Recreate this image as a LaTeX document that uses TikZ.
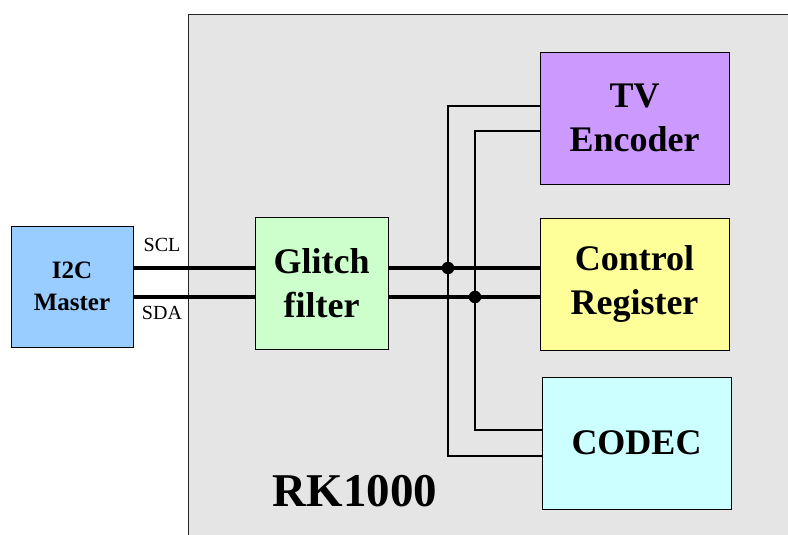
\documentclass[tikz,border=0pt]{standalone}
\usepackage{fontspec}
\setmainfont{Liberation Serif}
\definecolor{bgray}{HTML}{E5E5E5}
\definecolor{cmaster}{HTML}{99CCFF}
\definecolor{cglitch}{HTML}{CCFFCC}
\definecolor{ctv}{HTML}{CC99FF}
\definecolor{cctrl}{HTML}{FFFF99}
\definecolor{ccodec}{HTML}{CCFFFF}
\tikzset{
  blockbox/.style={draw=black, line width=0.9pt, inner sep=0pt, align=center,
    font=\bfseries\fontsize{36}{44}\selectfont},
  bus/.style={line width=3.4pt},
  tap/.style={line width=2.6pt},
  sig/.style={font=\fontsize{20}{22}\selectfont},
  dotjoin/.style={circle, fill=black, inner sep=0pt, minimum size=12.5pt},
}
\begin{document}
\begin{tikzpicture}[x=1pt,y=-1pt]
\useasboundingbox (0,0) rectangle (788,535);
% chip background
\path[fill=bgray, draw=black!85, line width=0.9pt] (188,14) rectangle (800,545);
\node[font=\bfseries\fontsize{47}{50}\selectfont] (rk) at (355,491) {RK1000};
% blocks
\node[blockbox, fill=cmaster, minimum width=122pt, minimum height=121pt,
      font=\bfseries\fontsize{25}{32}\selectfont] (i2c) at (72,286.5) {I2C\\Master};
\node[blockbox, fill=cglitch, minimum width=133pt, minimum height=132pt] (glitch) at (321.5,283) {Glitch\\filter};
\node[blockbox, fill=ctv, minimum width=189pt, minimum height=132pt] (tv) at (634.5,118) {TV\\Encoder};
\node[blockbox, fill=cctrl, minimum width=189pt, minimum height=132pt] (ctrl) at (634.5,284) {Control\\Register};
\node[blockbox, fill=ccodec, minimum width=189pt, minimum height=132pt] (codec) at (636.5,443) {CODEC};
% junction coordinates
\coordinate (j1) at (448,268);
\coordinate (j2) at (475,297);
\coordinate (t1) at (448,106);
\coordinate (t2) at (475,131);
\coordinate (c1) at (448,456);
\coordinate (c2) at (475,430);
% I2C bus
\draw[bus] (i2c.east |- j1) -- (glitch.west |- j1);
\draw[bus] (i2c.east |- j2) -- (glitch.west |- j2);
\draw[bus] (glitch.east |- j1) -- (ctrl.west |- j1);
\draw[bus] (glitch.east |- j2) -- (ctrl.west |- j2);
% taps to TV encoder and CODEC
\draw[tap] (tv.west |- t1) -- (t1) -- (c1) -- (codec.west |- c1);
\draw[tap] (tv.west |- t2) -- (t2) -- (c2) -- (codec.west |- c2);
\node[dotjoin] (d1) at (j1) {};
\node[dotjoin] (d2) at (j2) {};
% signal labels
\node[sig] (scl) at (162,245) {SCL};
\node[sig] (sda) at (162,313) {SDA};
\end{tikzpicture}
\end{document}
